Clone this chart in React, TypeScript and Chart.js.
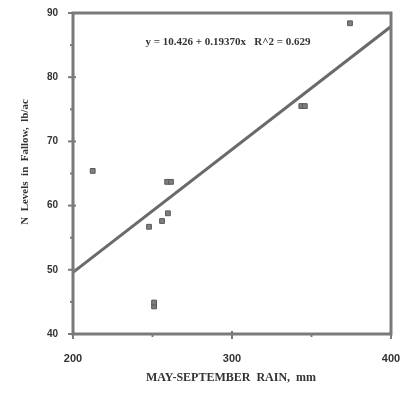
import React, { useEffect, useRef } from "react";
import { Chart, registerables } from "chart.js";
Chart.register(...registerables);

const rainX = [212.4, 247.8, 251, 251, 256, 259.7, 259.2, 261.6, 343.6, 345.8, 374.2];
const nLevelY = [65.4, 56.7, 44.3, 44.9, 57.6, 58.8, 63.7, 63.7, 75.5, 75.5, 88.4];
const fitX = [200, 400];
const fitY = [49.6, 87.9];
const xMajorTicks = [200, 300, 400];
const xMinorTicks = [250, 350];
const yMajorTicks = [40, 50, 60, 70, 80, 90];
const yMinorTicks = [45, 55, 65, 75, 85];
const equationText = "y = 10.426 + 0.19370x   R^2 = 0.629";
const xTitle = "MAY-SEPTEMBER  RAIN,  mm";
const yTitle = "N  Levels  in  Fallow,  lb/ac";

const AXIS = "#7a7a7a";
const TEXT = "#333333";

const decor = {
  id: "decor",
  afterDatasetsDraw(chart: any) {
    const { ctx, chartArea: a, scales } = chart;
    const xs = scales.x, ys = scales.y;
    ctx.save();
    ctx.strokeStyle = AXIS;
    ctx.lineWidth = 3;
    ctx.strokeRect(a.left, a.top, a.right - a.left, a.bottom - a.top);
    ctx.lineWidth = 2;
    for (const v of yMajorTicks) {
      const p = ys.getPixelForValue(v);
      ctx.beginPath(); ctx.moveTo(a.left - 5, p); ctx.lineTo(a.left + 3, p); ctx.stroke();
    }
    for (const v of yMinorTicks) {
      const p = ys.getPixelForValue(v);
      ctx.beginPath(); ctx.moveTo(a.left - 3, p); ctx.lineTo(a.left, p); ctx.stroke();
    }
    for (const v of xMajorTicks) {
      const p = xs.getPixelForValue(v);
      ctx.beginPath(); ctx.moveTo(p, a.bottom - 3); ctx.lineTo(p, a.bottom + 5); ctx.stroke();
    }
    for (const v of xMinorTicks) {
      const p = xs.getPixelForValue(v);
      ctx.beginPath(); ctx.moveTo(p, a.bottom); ctx.lineTo(p, a.bottom + 3); ctx.stroke();
    }
    ctx.fillStyle = TEXT;
    ctx.font = "bold 11px 'Liberation Serif'";
    ctx.textAlign = "center";
    ctx.textBaseline = "middle";
    ctx.fillText(equationText, 228, 42);
    ctx.font = "bold 12px 'Liberation Serif'";
    ctx.fillText(xTitle, 231, 378);
    ctx.translate(25, 162);
    ctx.rotate(-Math.PI / 2);
    ctx.font = "bold 11px 'Liberation Serif'";
    ctx.fillText(yTitle, 0, 0);
    ctx.restore();
  },
};

export default function App() {
  const ref = useRef<HTMLCanvasElement>(null);
  useEffect(() => {
    const chart = new Chart(ref.current!, {
      type: "scatter",
      data: {
        datasets: [
          {
            type: "line",
            data: fitX.map((x, i) => ({ x, y: fitY[i] })),
            borderColor: "#6a6a6a",
            borderWidth: 3,
            pointRadius: 0,
            fill: false,
          } as any,
          {
            data: rainX.map((x, i) => ({ x, y: nLevelY[i] })),
            pointStyle: "rect",
            pointRadius: 3.4,
            backgroundColor: "#7e7e7e",
            borderColor: "#5a5a5a",
            borderWidth: 1,
          },
        ],
      },
      options: {
        animation: false,
        responsive: false,
        events: [],
        layout: { padding: { left: 0, right: 9, top: 13, bottom: 0 } },
        plugins: { legend: { display: false }, tooltip: { enabled: false } },
        scales: {
          x: {
            type: "linear",
            min: 200,
            max: 400,
            afterFit: (s: any) => { s.height = 59; s.paddingLeft = 0; s.paddingRight = 0; },
            afterBuildTicks: (s: any) => { s.ticks = xMajorTicks.map((v) => ({ value: v })); },
            grid: { display: false },
            border: { display: false },
            ticks: {
              padding: 10,
              color: TEXT,
              font: { family: "'Liberation Sans'", size: 11, weight: "bold" },
            },
          },
          y: {
            type: "linear",
            min: 40,
            max: 90,
            afterFit: (s: any) => { s.width = 73; s.paddingTop = 0; s.paddingBottom = 0; },
            afterBuildTicks: (s: any) => { s.ticks = yMajorTicks.map((v) => ({ value: v })); },
            grid: { display: false },
            border: { display: false },
            ticks: {
              padding: 7,
              color: TEXT,
              font: { family: "'Liberation Sans'", size: 10, weight: "bold" },
            },
          },
        },
      },
      plugins: [decor],
    });
    return () => chart.destroy();
  }, []);
  return (
    <div style={{ position: "fixed", left: 0, top: 0, width: 400, height: 393, background: "#fff" }}>
      <canvas ref={ref} width={400} height={393} style={{ width: 400, height: 393 }} />
    </div>
  );
}
